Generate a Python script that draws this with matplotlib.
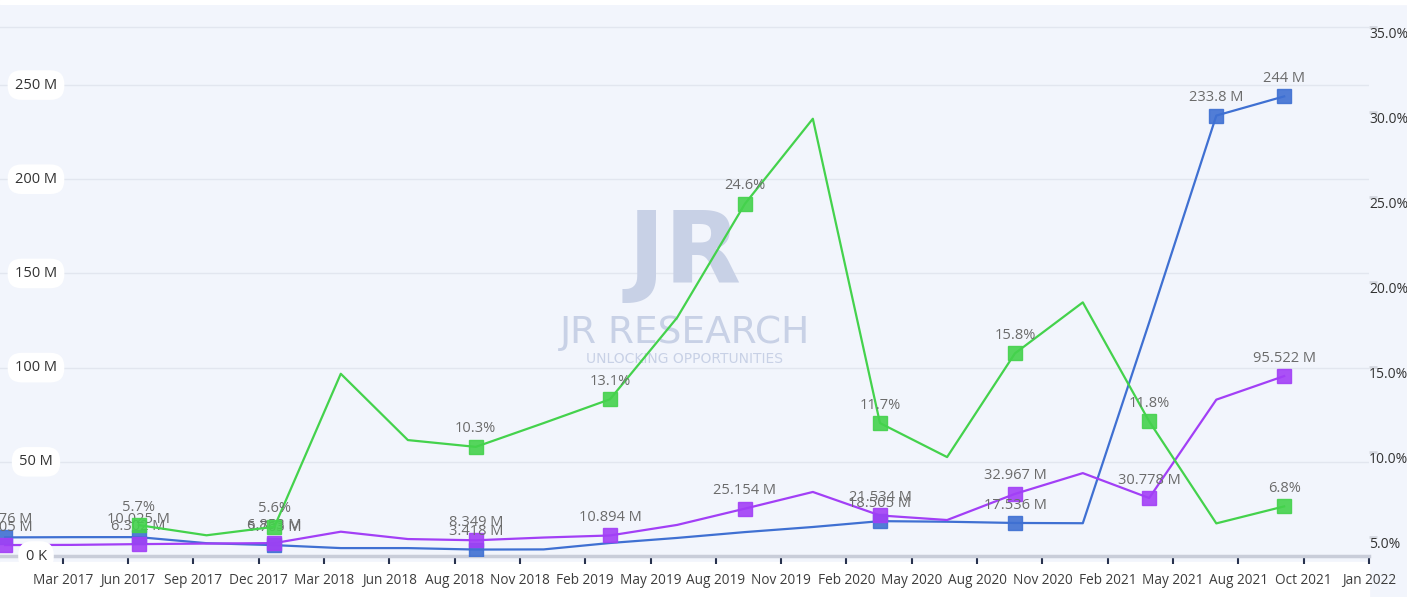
"""
Quarterly series with a dual axis (values in M on the left, % on the right).
"""

import matplotlib.dates as mdates
import matplotlib.pyplot as plt
import numpy as np
from matplotlib.patches import Rectangle

# quarter ends, Dec 2016 .. Sep 2021
quarter_end = [
    "2016-12-31", "2017-03-31", "2017-06-30", "2017-09-30", "2017-12-31",
    "2018-03-31", "2018-06-30", "2018-09-30", "2018-12-31", "2019-03-31",
    "2019-06-30", "2019-09-30", "2019-12-31", "2020-03-31", "2020-06-30",
    "2020-09-30", "2020-12-31", "2021-03-31", "2021-06-30", "2021-09-30",
]

blue_vals = [9.876, 10.0, 10.025, 6.8, 5.763, 4.2, 4.2, 3.418, 3.5, 6.9,
             9.6, 12.7, 15.4, 18.505, 18.2, 17.536, 17.4, 124.0, 233.8, 244.0]
purple_vals = [5.805, 5.9, 6.302, 6.6, 6.853, 12.9, 9.0, 8.349, 9.8, 10.894,
               16.5, 25.154, 34.0, 21.534, 19.1, 32.967, 44.0, 30.778, 83.0, 95.522]
green_pct = [np.nan, np.nan, 5.7, 5.1, 5.6, 14.6, 10.7, 10.3, 11.7, 13.1,
             17.9, 24.6, 29.6, 11.7, 9.7, 15.8, 18.8, 11.8, 5.8, 6.8]

# points that carry a marker and a value label
blue_marked = [0, 2, 4, 7, 13, 15, 18, 19]
purple_marked = [0, 2, 4, 7, 9, 11, 13, 15, 17, 19]
green_marked = [2, 4, 7, 9, 11, 13, 15, 17, 19]

x_labels = ["Mar 2017", "Jun 2017", "Sep 2017", "Dec 2017", "Mar 2018", "Jun 2018",
            "Aug 2018", "Nov 2018", "Feb 2019", "May 2019", "Aug 2019", "Nov 2019",
            "Feb 2020", "May 2020", "Aug 2020", "Nov 2020", "Feb 2021", "May 2021",
            "Aug 2021", "Oct 2021", "Jan 2022"]
left_ticks = [0, 50, 100, 150, 200, 250]
left_labels = ["0 K", "50 M", "100 M", "150 M", "200 M", "250 M"]
right_ticks = [5, 10, 15, 20, 25, 30, 35]

BLUE = "#3f70d2"
PURPLE = "#a23ff6"
GREEN = "#44d24c"
BG = "#f2f5fc"
LABEL = "#6b6b6b"
MARK = "#c8d1e6"

plt.rcParams["font.family"] = ["Open Sans", "DejaVu Sans"]

x = mdates.datestr2num(quarter_end)
x_ticks = np.linspace(mdates.datestr2num("2017-03-19"), mdates.datestr2num("2022-01-23"), len(x_labels))

fig = plt.figure(figsize=(14.07, 5.97), dpi=100, facecolor=BG)
fig.patches.append(Rectangle((0, 0), 1369 / 1407, 35 / 597, transform=fig.transFigure,
                             color="white", zorder=-5))
fig.patches.append(Rectangle((0, 593 / 597), 1, 4 / 597, transform=fig.transFigure,
                             color="white", zorder=-5))

ax = fig.add_axes([0, 41 / 597, 1369 / 1407, 551 / 597])
ax.set_facecolor(BG)
ax2 = ax.twinx()

ax.set_xlim(mdates.datestr2num("2016-12-24"), x_ticks[-1])
ax.set_ylim(0, 292.5)
ax2.set_ylim(3.882, 36.29)

for v in left_ticks[1:]:
    ax.axhline(v, color="#e2e6ef", lw=1, zorder=0)
ax2.axhline(35, color="#e2e6ef", lw=1, zorder=0)

# watermark
ax.text(0.5, 0.545, "JR", transform=ax.transAxes, ha="center", va="center",
        fontsize=72, fontweight="bold", family="DejaVu Sans", color=MARK, zorder=0.5)
ax.text(0.5, 0.405, "JR RESEARCH", transform=ax.transAxes, ha="center", va="center",
        fontsize=27, family="DejaVu Sans", color=MARK, zorder=0.5)
ax.text(0.5, 0.358, "UNLOCKING OPPORTUNITIES", transform=ax.transAxes, ha="center",
        va="center", fontsize=10, family="DejaVu Sans", color=MARK, zorder=0.5)


def draw_series(axis, values, marked, color, fmt):
    values = np.asarray(values, dtype=float)
    axis.plot(x, values, color=color, lw=1.6, zorder=3)
    idx = np.array(marked)
    axis.plot(x[idx], values[idx], ls="none", marker="s", markersize=9.5,
              color=color, alpha=0.9, markeredgecolor=color, zorder=4)
    for i in marked:
        axis.annotate(fmt(values[i]), (x[i], values[i]), xytext=(0, 7.5),
                      textcoords="offset points", ha="center", va="bottom",
                      fontsize=10.5, color=LABEL, zorder=5)


draw_series(ax, blue_vals, blue_marked, BLUE, lambda v: f"{v:g} M")
draw_series(ax, purple_vals, purple_marked, PURPLE, lambda v: f"{v:g} M")
draw_series(ax2, green_pct, green_marked, GREEN, lambda v: f"{v:.1f}%")

# x axis
ax.set_xticks(x_ticks)
ax.set_xticklabels(x_labels)
ax.tick_params(axis="x", direction="out", length=6, width=1.5, color="#28324e",
               labelsize=9.8, labelcolor="#3d3d3d", pad=6)
for side in ["left", "right", "top"]:
    ax.spines[side].set_visible(False)
    ax2.spines[side].set_visible(False)
ax.spines["bottom"].set_color("#c9cdd9")
ax.spines["bottom"].set_linewidth(2.5)
ax2.spines["bottom"].set_visible(False)

# left labels in white pills
ax.set_yticks([])
for v, lab in zip(left_ticks, left_labels):
    ax.text(36 / 1369, v, lab, transform=ax.get_yaxis_transform(), ha="center",
            va="center", fontsize=10.5, color="#333333", zorder=6,
            bbox=dict(boxstyle="round,pad=0.5,rounding_size=0.95", fc="white", ec="none"))

# right percent axis
ax2.set_yticks(right_ticks)
ax2.set_yticklabels([f"{v:.1f}%" for v in right_ticks])
ax2.tick_params(axis="y", direction="out", length=6, width=2, color="#d5d8e0",
                labelsize=10, labelcolor="#333333", pad=-6)
for lab in ax2.get_yticklabels():
    lab.set_va("top")

fig.savefig("out.png", dpi=100, facecolor=BG)
